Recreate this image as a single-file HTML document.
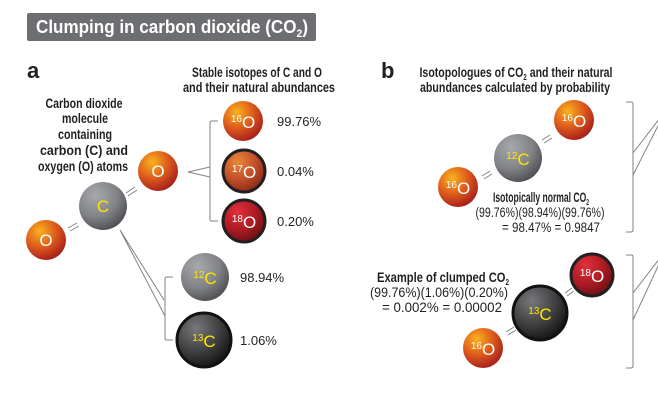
<!DOCTYPE html>
<html><head><meta charset="utf-8"><style>
html,body{margin:0;padding:0;background:#fff;}
svg{display:block;}
.h{font-family:"Liberation Sans",sans-serif;font-weight:bold;font-size:14px;fill:#231f20;text-anchor:middle;}
.n{font-weight:normal;}
.p{font-family:"Liberation Sans",sans-serif;font-size:13px;fill:#231f20;}
.al{font-family:"Liberation Sans",sans-serif;fill:#fff;font-size:17px;}
.sup{font-size:10px;}
.cl{fill:#ffe600;}
.br{fill:none;stroke:#808285;stroke-width:1;}
.bond{stroke:#808285;stroke-width:1;}
</style></head><body>
<svg width="658" height="406" viewBox="0 0 658 406" xmlns="http://www.w3.org/2000/svg">
<defs>
<radialGradient id="gO" cx="35%" cy="28%" r="75%"><stop offset="0" stop-color="#f9b21f"/><stop offset="0.5" stop-color="#e0601c"/><stop offset="1" stop-color="#a81f1c"/></radialGradient>
<radialGradient id="gO17" cx="35%" cy="28%" r="75%"><stop offset="0" stop-color="#e9893a"/><stop offset="0.55" stop-color="#c4502a"/><stop offset="1" stop-color="#8a2a1a"/></radialGradient>
<radialGradient id="gO18" cx="35%" cy="28%" r="75%"><stop offset="0" stop-color="#e0303a"/><stop offset="0.55" stop-color="#b01c24"/><stop offset="1" stop-color="#6e1015"/></radialGradient>
<radialGradient id="gC" cx="35%" cy="28%" r="75%"><stop offset="0" stop-color="#a7a9ac"/><stop offset="0.6" stop-color="#808285"/><stop offset="1" stop-color="#505154"/></radialGradient>
<radialGradient id="gC13" cx="35%" cy="28%" r="75%"><stop offset="0" stop-color="#77787b"/><stop offset="0.6" stop-color="#3e3e40"/><stop offset="1" stop-color="#151515"/></radialGradient>
</defs>

<g>
<rect x="27" y="13" width="289" height="28" rx="2" fill="#6d6e71"/>
<text x="36" y="33" font-family="Liberation Sans,sans-serif" font-size="18" font-weight="bold" fill="#fff" textLength="272" lengthAdjust="spacingAndGlyphs">Clumping in carbon dioxide (CO<tspan font-size="11" dy="4">2</tspan><tspan dy="-4">)</tspan></text>
</g>

<text x="27" y="78" font-family="Liberation Sans,sans-serif" font-size="22" font-weight="bold" fill="#231f20">a</text>
<text x="381" y="78" font-family="Liberation Sans,sans-serif" font-size="22" font-weight="bold" fill="#231f20">b</text>

<g>
<text class="h" x="257" y="77" textLength="130" lengthAdjust="spacingAndGlyphs">Stable isotopes of C and O</text>
<text class="h" x="259" y="92" textLength="152" lengthAdjust="spacingAndGlyphs">and their natural abundances</text>
</g>
<g>
<text class="h" x="84" y="108" textLength="77" lengthAdjust="spacingAndGlyphs">Carbon dioxide</text>
<text class="h" x="85" y="123" textLength="46" lengthAdjust="spacingAndGlyphs">molecule</text>
<text class="h" x="85" y="139" textLength="54" lengthAdjust="spacingAndGlyphs">containing</text>
<text class="h" x="84" y="155" textLength="88" lengthAdjust="spacingAndGlyphs">carbon (C) and</text>
<text class="h" x="83" y="171" textLength="90" lengthAdjust="spacingAndGlyphs">oxygen (O) atoms</text>
</g>

<g>
<line class="bond" x1="126" y1="193" x2="135" y2="187"/><line class="bond" x1="128" y1="196" x2="137" y2="190"/>
<line class="bond" x1="68" y1="228" x2="77" y2="223"/><line class="bond" x1="70" y1="231" x2="79" y2="226"/>
<circle cx="158" cy="171" r="20" fill="url(#gO)"/><text class="al" x="158" y="177" text-anchor="middle">O</text>
<circle cx="103" cy="206" r="24" fill="url(#gC)"/><text class="al cl" x="103" y="212" text-anchor="middle">C</text>
<circle cx="46" cy="240" r="20" fill="url(#gO)"/><text class="al" x="46" y="246" text-anchor="middle">O</text>
</g>

<g>
<path class="br" d="M218 121 H212 Q210 121 210 123 V219 Q210 221 212 221 H218"/>
<path class="br" d="M210 167 L188 172 L210 177"/>
</g>
<g>
<path class="br" d="M173 277 H167 Q165 277 165 279 V338 Q165 340 167 340 H173"/>
<path class="br" d="M120 230 L164 300 M120 230 L165 316"/>
</g>

<g>
<circle cx="243" cy="121" r="20" fill="url(#gO)"/>
<text class="al" x="243" y="128" text-anchor="middle"><tspan class="sup" dy="-6">16</tspan><tspan dy="6">O</tspan></text>
<text class="p" x="277" y="126">99.76%</text>
</g>
<g>
<circle cx="244" cy="171" r="21" fill="url(#gO17)" stroke="#231f20" stroke-width="3"/>
<text class="al" x="244" y="178" text-anchor="middle"><tspan class="sup" dy="-6">17</tspan><tspan dy="6">O</tspan></text>
<text class="p" x="277" y="176">0.04%</text>
</g>
<g>
<circle cx="244" cy="221" r="21" fill="url(#gO18)" stroke="#231f20" stroke-width="3"/>
<text class="al" x="244" y="228" text-anchor="middle"><tspan class="sup" dy="-6">18</tspan><tspan dy="6">O</tspan></text>
<text class="p" x="277" y="226">0.20%</text>
</g>
<g>
<circle cx="205" cy="277" r="24" fill="url(#gC)"/>
<text class="al cl" x="205" y="284" text-anchor="middle"><tspan class="sup" dy="-6">12</tspan><tspan dy="6">C</tspan></text>
<text class="p" x="240" y="282">98.94%</text>
</g>
<g>
<circle cx="204" cy="340" r="27" fill="url(#gC13)" stroke="#111" stroke-width="3"/>
<text class="al cl" x="204" y="347" text-anchor="middle"><tspan class="sup" dy="-6">13</tspan><tspan dy="6">C</tspan></text>
<text class="p" x="240" y="345">1.06%</text>
</g>

<g>
<text class="h" x="516" y="77" textLength="193" lengthAdjust="spacingAndGlyphs">Isotopologues of CO<tspan font-size="8" dy="3">2</tspan><tspan dy="-3"> and their natural</tspan></text>
<text class="h" x="515" y="92" textLength="190" lengthAdjust="spacingAndGlyphs">abundances calculated by probability</text>
</g>

<g>
<line class="bond" x1="542" y1="140" x2="550" y2="135"/><line class="bond" x1="544" y1="143" x2="552" y2="138"/>
<line class="bond" x1="482" y1="176" x2="490" y2="171"/><line class="bond" x1="484" y1="179" x2="492" y2="174"/>
<circle cx="574" cy="120" r="20" fill="url(#gO)"/>
<text class="al" x="574" y="127" text-anchor="middle"><tspan class="sup" dy="-6">16</tspan><tspan dy="6">O</tspan></text>
<circle cx="518" cy="158" r="24" fill="url(#gC)"/>
<text class="al cl" x="518" y="165" text-anchor="middle"><tspan class="sup" dy="-6">12</tspan><tspan dy="6">C</tspan></text>
<circle cx="458" cy="187" r="20" fill="url(#gO)"/>
<text class="al" x="458" y="194" text-anchor="middle"><tspan class="sup" dy="-6">16</tspan><tspan dy="6">O</tspan></text>
</g>
<g>
<text class="h" x="541" y="202" textLength="96" lengthAdjust="spacingAndGlyphs">Isotopically normal CO<tspan font-size="8" dy="3">2</tspan></text>
<text class="h n" x="540" y="217" textLength="129" lengthAdjust="spacingAndGlyphs">(99.76%)(98.94%)(99.76%)</text>
<text class="h n" x="551" y="232" textLength="98" lengthAdjust="spacingAndGlyphs">= 98.47% = 0.9847</text>
</g>
<g>
<path class="br" d="M626 102 H631 Q633 102 633 104 V230 Q633 232 631 232 H626"/>
<path class="br" d="M633 153 L660 118 M633 175 L660 122"/>
</g>

<g>
<line class="bond" x1="565" y1="293" x2="572" y2="288"/><line class="bond" x1="567" y1="296" x2="574" y2="291"/>
<line class="bond" x1="506" y1="332" x2="514" y2="327"/><line class="bond" x1="508" y1="335" x2="516" y2="330"/>
<circle cx="592" cy="275" r="21" fill="url(#gO18)" stroke="#231f20" stroke-width="3"/>
<text class="al" x="592" y="282" text-anchor="middle"><tspan class="sup" dy="-6">18</tspan><tspan dy="6">O</tspan></text>
<circle cx="540" cy="313" r="27" fill="url(#gC13)" stroke="#111" stroke-width="3"/>
<text class="al cl" x="540" y="320" text-anchor="middle"><tspan class="sup" dy="-6">13</tspan><tspan dy="6">C</tspan></text>
<circle cx="483" cy="348" r="20" fill="url(#gO)"/>
<text class="al" x="483" y="355" text-anchor="middle"><tspan class="sup" dy="-6">16</tspan><tspan dy="6">O</tspan></text>
</g>
<g>
<text class="h" x="443" y="282" textLength="132" lengthAdjust="spacingAndGlyphs">Example of clumped CO<tspan font-size="8" dy="3">2</tspan></text>
<text class="h n" x="439" y="297" textLength="138" lengthAdjust="spacingAndGlyphs">(99.76%)(1.06%)(0.20%)</text>
<text class="h n" x="442" y="312" textLength="120" lengthAdjust="spacingAndGlyphs">= 0.002% = 0.00002</text>
</g>
<g>
<path class="br" d="M626 255 H631 Q633 255 633 257 V366 Q633 368 631 368 H626"/>
<path class="br" d="M633 293 L660 258 M633 320 L660 262"/>
</g>
</svg>
</body></html>
